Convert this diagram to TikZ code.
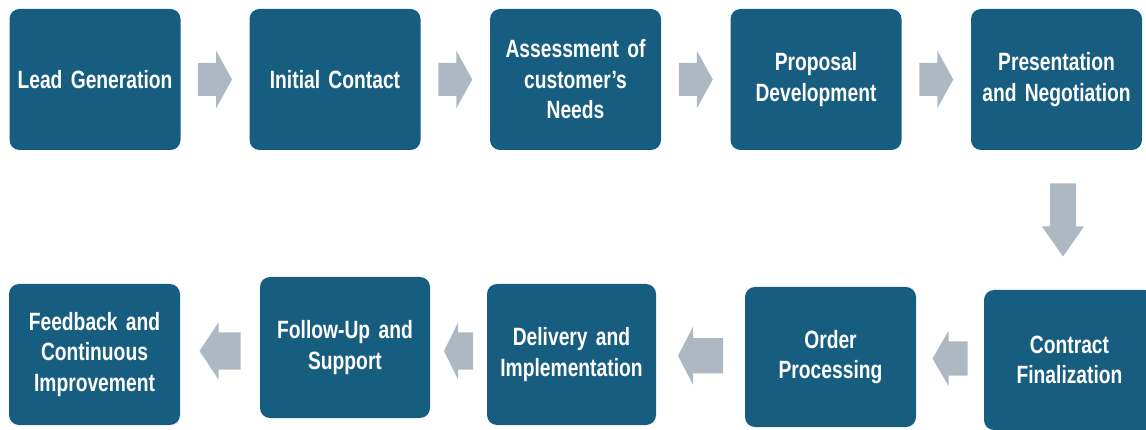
\documentclass[tikz,border=0pt]{standalone}
\usepackage{fontspec}
\newfontfamily\boxfont{Liberation Sans}[FakeStretch=0.77]
\usetikzlibrary{calc}
\definecolor{boxblue}{HTML}{175D7F}
\definecolor{arrowgray}{HTML}{ADB8C3}
\newcommand{\tightspace}{\fontdimen2\font=4pt\fontdimen3\font=0pt\fontdimen4\font=0pt}
\tikzset{
  stepbox/.style={fill=boxblue, rounded corners=10pt, text=white, align=center,
    minimum width=171pt, minimum height=141pt, inner sep=0pt, text width=166pt,
    font=\boxfont\bfseries\fontsize{25}{30.5}\selectfont\tightspace},
  arrowfill/.style={fill=arrowgray, draw=none}
}
% #1,#2 neighbouring anchors, #3 direction (1 right, -1 left), #4 length, #5 head length, #6 shaft height, #7 head height
\newcommand{\harrow}[7]{%
  \begin{scope}[shift={($#1!0.5!#2$)}, xscale=#3]
    \fill[arrowfill] ({-#4/2},{-#6/2}) -- ({#4/2-#5},{-#6/2}) -- ({#4/2-#5},{-#7/2}) -- ({#4/2},0)
      -- ({#4/2-#5},{#7/2}) -- ({#4/2-#5},{#6/2}) -- ({-#4/2},{#6/2}) -- cycle;
  \end{scope}}
\newcommand{\varrow}[6]{%
  \begin{scope}[shift={($#1!0.5!#2$)}]
    \fill[arrowfill] ({-#5/2},{-#3/2}) -- ({-#5/2},{#3/2-#4}) -- ({-#6/2},{#3/2-#4}) -- (0,{#3/2})
      -- ({#6/2},{#3/2-#4}) -- ({#5/2},{#3/2-#4}) -- ({#5/2},{-#3/2}) -- cycle;
  \end{scope}}
\begin{document}
\begin{tikzpicture}[x=1pt, y=-1pt]
\useasboundingbox (0,0) rectangle (1146,430);
\fill[white] (0,0) rectangle (1146,430);
\clip (0,0) rectangle (1146,430);
% top row
\node[stepbox] (b1) at (95,79.5) {Lead Generation};
\node[stepbox] (b2) at (335,79.5) {Initial Contact};
\node[stepbox] (b3) at (575.5,79.5) {Assessment of\\ customer’s\\ Needs};
\node[stepbox] (b4) at (816,79.5) {Proposal\\ Development};
\node[stepbox] (b5) at (1056.5,79.5) {Presentation\\ and Negotiation};
% bottom row
\node[stepbox, minimum height=140pt] (b6) at (1069.5,360) {Contract\\ Finalization};
\node[stepbox, minimum height=140pt] (b7) at (830.5,357) {Order\\ Processing};
\node[stepbox, minimum width=169pt] (b8) at (571.5,354.5) {Delivery and\\ Implementation};
\node[stepbox, minimum width=170pt] (b9) at (345,347.5) {Follow-Up and\\ Support};
\node[stepbox] (b10) at (94.5,354.5) {Feedback and\\ Continuous\\ Improvement};
% arrows
\harrow{(b1.east)}{(b2.west)}{1}{34}{16}{33}{58}
\harrow{(b2.east)}{(b3.west)}{1}{34}{16}{33}{58}
\harrow{(b3.east)}{(b4.west)}{1}{34}{16}{33}{58}
\harrow{(b4.east)}{(b5.west)}{1}{34}{16}{33}{58}
\varrow{(b5.south)}{(b6.north)}{73}{30}{26}{42}
\harrow{(b6.west)}{(b7.east)}{-1}{35}{16}{34}{55}
\harrow{(b7.west)}{(b8.east)}{-1}{45}{15}{35}{58}
\harrow{(b8.west)}{(b9.east)}{-1}{29}{14}{37}{57}
\harrow{(b9.west)}{(b10.east)}{-1}{41}{19}{37}{57}
\end{tikzpicture}
\end{document}
